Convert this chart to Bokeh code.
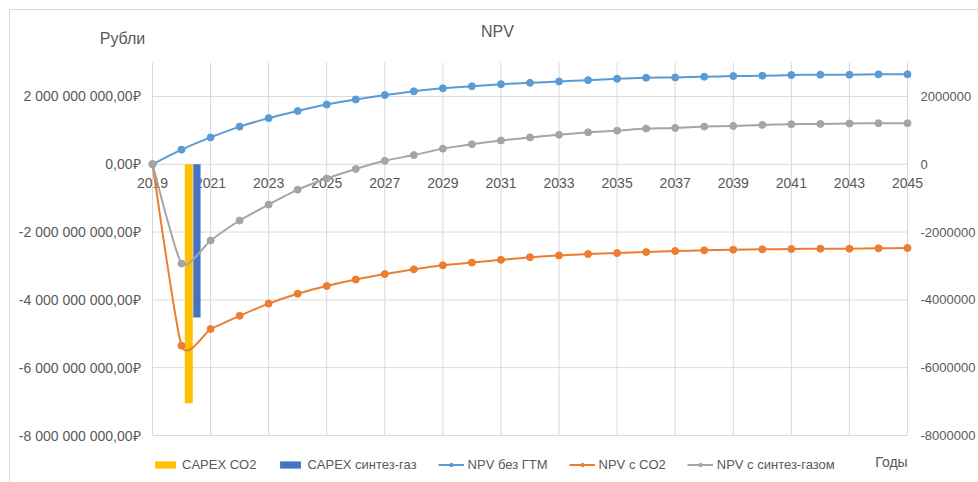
from bokeh.plotting import figure
from bokeh.models import Legend, LegendItem, Range1d
from bokeh.core.properties import value
from bokeh.embed import file_html
from bokeh.resources import INLINE

# ---------------- data ----------------
years = list(range(2019, 2046))
npv_base = [0, 0.43, 0.79, 1.11, 1.36, 1.57, 1.76, 1.91, 2.04, 2.15, 2.24, 2.30, 2.36,
            2.40, 2.44, 2.48, 2.52, 2.55, 2.56, 2.58, 2.60, 2.61, 2.63, 2.64, 2.64, 2.65, 2.65]
npv_co2 = [0, -5.35, -4.86, -4.47, -4.11, -3.82, -3.59, -3.40, -3.24, -3.10, -2.98, -2.90,
           -2.82, -2.74, -2.69, -2.65, -2.62, -2.59, -2.56, -2.54, -2.52, -2.51, -2.50,
           -2.49, -2.49, -2.48, -2.47]
npv_syngas = [0, -2.93, -2.25, -1.66, -1.19, -0.75, -0.42, -0.14, 0.10, 0.27, 0.46, 0.59,
              0.70, 0.79, 0.87, 0.94, 0.99, 1.05, 1.07, 1.11, 1.13, 1.16, 1.18, 1.19,
              1.20, 1.21, 1.21]
bar_year = [2020]
capex_co2 = [-7.05]
capex_syngas = [-4.52]
scale = 1e9

x_tick_years = list(range(2019, 2046, 2))
x_tick_labels = [str(y) for y in x_tick_years]
y_ticks = [-8e9, -6e9, -4e9, -2e9, 0, 2e9]
y_left_labels = ["-8\u00a0000\u00a0000\u00a0000,00\u20bd", "-6\u00a0000\u00a0000\u00a0000,00\u20bd",
                 "-4\u00a0000\u00a0000\u00a0000,00\u20bd", "-2\u00a0000\u00a0000\u00a0000,00\u20bd",
                 "0,00\u20bd", "2\u00a0000\u00a0000\u00a0000,00\u20bd"]
y_right_labels = ["-8000000", "-6000000", "-4000000", "-2000000", "0", "2000000"]

series_names = ["CAPEX CO2", "CAPEX синтез-газ", "NPV без ГТМ", "NPV с CO2", "NPV с синтез-газом"]
title_text = "NPV"
y_title = "Рубли"
x_title = "Годы"

# ---------------- layout (pixels) ----------------
W, H = 978, 482
PL, PR, PT, PB = 152, 907, 62, 435          # plot area in canvas pixels
X0, X1 = 2019, 2045
Y0, Y1 = -8e9, 3e9
ppx = (PR - PL) / (X1 - X0)
ppy = (PB - PT) / (Y1 - Y0)
TENSION = 0.1

def px2x(px):
    return X0 + (px - PL) / ppx

def px2y(py):
    return Y0 + (PB - py) / ppy

def smooth_segments(xs, ys, k=TENSION):
    """Bezier control points for an Excel-like smoothed line through the data."""
    n = len(xs)
    seg = dict(x0=[], y0=[], x1=[], y1=[], cx0=[], cy0=[], cx1=[], cy1=[])
    for i in range(n - 1):
        a = max(i - 1, 0)
        d = min(i + 2, n - 1)
        seg["x0"].append(xs[i]); seg["y0"].append(ys[i])
        seg["x1"].append(xs[i + 1]); seg["y1"].append(ys[i + 1])
        seg["cx0"].append(xs[i] + (xs[i + 1] - xs[a]) * k)
        seg["cy0"].append(ys[i] + (ys[i + 1] - ys[a]) * k)
        seg["cx1"].append(xs[i + 1] - (xs[d] - xs[i]) * k)
        seg["cy1"].append(ys[i + 1] - (ys[d] - ys[i]) * k)
    return seg

FONT = value("Liberation Sans")
TXT = "#595959"
GRID = "#d9d9d9"
C_YEL, C_BLU_BAR = "#FFC000", "#4472C4"
C_BLUE, C_ORANGE, C_GRAY = "#5B9BD5", "#ED7D31", "#A5A5A5"

p = figure(width=W, height=H, min_border=0,
           x_range=Range1d(px2x(0), px2x(W)), y_range=Range1d(px2y(H), px2y(0)),
           x_axis_location=None, y_axis_location=None,
           output_backend="svg", toolbar_location=None)
p.outline_line_color = None
p.grid.visible = False
p.background_fill_color = "white"
p.border_fill_color = "white"

# chart-area border (top/left visible in the reference)
p.segment(x0=[px2x(9), px2x(9)], y0=[px2y(9), px2y(9)], x1=[px2x(W), px2x(9)], y1=[px2y(9), px2y(H)],
          line_color="#d9d9d9", line_width=1)

# gridlines
p.segment(x0=x_tick_years, y0=[Y0] * len(x_tick_years), x1=x_tick_years, y1=[Y1] * len(x_tick_years),
          line_color=GRID, line_width=1)
p.segment(x0=[X0] * len(y_ticks), y0=y_ticks, x1=[X1] * len(y_ticks), y1=y_ticks,
          line_color=GRID, line_width=1)

# axis tick labels
p.text(x=[X0] * len(y_ticks), y=y_ticks, text=y_left_labels, x_offset=-12,
       text_align="right", text_baseline="middle", text_font=FONT,
       text_font_size="14px", text_color=TXT)
p.text(x=[X1] * len(y_ticks), y=y_ticks, text=y_right_labels, x_offset=13,
       text_align="left", text_baseline="middle", text_font=FONT,
       text_font_size="13px", text_color=TXT)
p.text(x=x_tick_years, y=[0] * len(x_tick_years), text=x_tick_labels, y_offset=19,
       text_align="center", text_baseline="middle", text_font=FONT,
       text_font_size="14px", text_color=TXT)

# bars
b1 = p.vbar(x=[y + 0.25 for y in bar_year], top=[v * scale for v in capex_co2], bottom=0,
            width=0.275, fill_color=C_YEL, line_color=None)
b2 = p.vbar(x=[y + 0.53 for y in bar_year], top=[v * scale for v in capex_syngas], bottom=0,
            width=0.25, fill_color=C_BLU_BAR, line_color=None)

# smoothed lines with markers
rend = []
for vals, col in [(npv_base, C_BLUE), (npv_co2, C_ORANGE), (npv_syngas, C_GRAY)]:
    ys = [v * scale for v in vals]
    l = p.bezier(source=smooth_segments(years, ys), x0="x0", y0="y0", x1="x1", y1="y1",
                 cx0="cx0", cy0="cy0", cx1="cx1", cy1="cy1", line_color=col, line_width=2)
    s = p.scatter(years, ys, size=7, fill_color=col, line_color=col)
    rend.append([l, s])

# titles
p.text(x=[px2x(497)], y=[px2y(31)], text=[title_text], text_align="center",
       text_baseline="middle", text_font=FONT, text_font_size="16px", text_color=TXT)
p.text(x=[px2x(122)], y=[px2y(38)], text=[y_title], text_align="center",
       text_baseline="middle", text_font=FONT, text_font_size="16px", text_color=TXT)
p.text(x=[px2x(891)], y=[px2y(461)], text=[x_title], text_align="center",
       text_baseline="middle", text_font=FONT, text_font_size="14px", text_color=TXT)

# legend
legend = Legend(items=[LegendItem(label=series_names[0], renderers=[b1]),
                       LegendItem(label=series_names[1], renderers=[b2]),
                       LegendItem(label=series_names[2], renderers=rend[0]),
                       LegendItem(label=series_names[3], renderers=rend[1]),
                       LegendItem(label=series_names[4], renderers=rend[2])],
                orientation="horizontal", location=(PL, H - 472),
                glyph_width=26, glyph_height=9, label_height=9, label_standoff=4,
                spacing=21, padding=0, margin=0, border_line_color=None,
                background_fill_alpha=0, label_text_font="Liberation Sans",
                label_text_font_size="13px", label_text_color=TXT)
p.add_layout(legend)

open("out.html", "w").write(file_html(p, INLINE))
